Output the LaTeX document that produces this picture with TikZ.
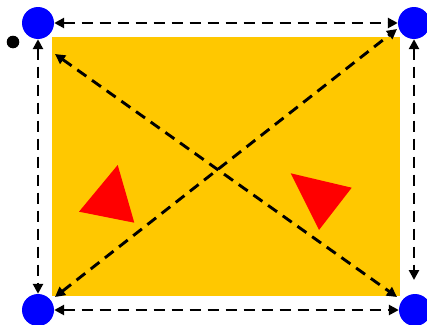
\documentclass[tikz,border=0pt]{standalone}
\usetikzlibrary{arrows.meta}
\definecolor{gold}{RGB}{255,200,0}
\begin{document}
\begin{tikzpicture}[x=1pt,y=-1pt,
  dot/.style={circle,fill=blue,draw=none,minimum size=32pt,inner sep=0pt},
  link/.style={dash pattern=on 11pt off 7pt,line width=2.9pt,{Triangle[length=10pt,width=10pt]}-{Triangle[length=10pt,width=10pt]}},
  redtri/.style={fill=red,draw=none}]
\useasboundingbox (0,0) rectangle (427,324);
\fill[gold] (52,37) rectangle (400,296);
\node[dot] (tl) at (38,23) {};
\node[dot] (tr) at (414,23) {};
\node[dot] (bl) at (38,310) {};
\node[dot] (br) at (415,310) {};
\fill[black] (13,42) circle (6.3);
\coordinate (rv) at (414,280);
\coordinate (d1a) at (55,54);
\coordinate (d1b) at (397,297);
\coordinate (d2a) at (55,297);
\coordinate (d2b) at (397,29);
\draw[link] (tl) -- (tr);
\draw[link] (tl) -- (bl);
\draw[link] (bl) -- (br);
\draw[link] (tr) -- (rv);
\draw[link] (d1a) -- (d1b);
\draw[link] (d2a) -- (d2b);
\fill[redtri] (117.7,165) -- (79,211.7) -- (134.3,222.7) -- cycle;
\fill[redtri] (290.7,173.3) -- (351.7,187.7) -- (319,230) -- cycle;
\end{tikzpicture}
\end{document}
